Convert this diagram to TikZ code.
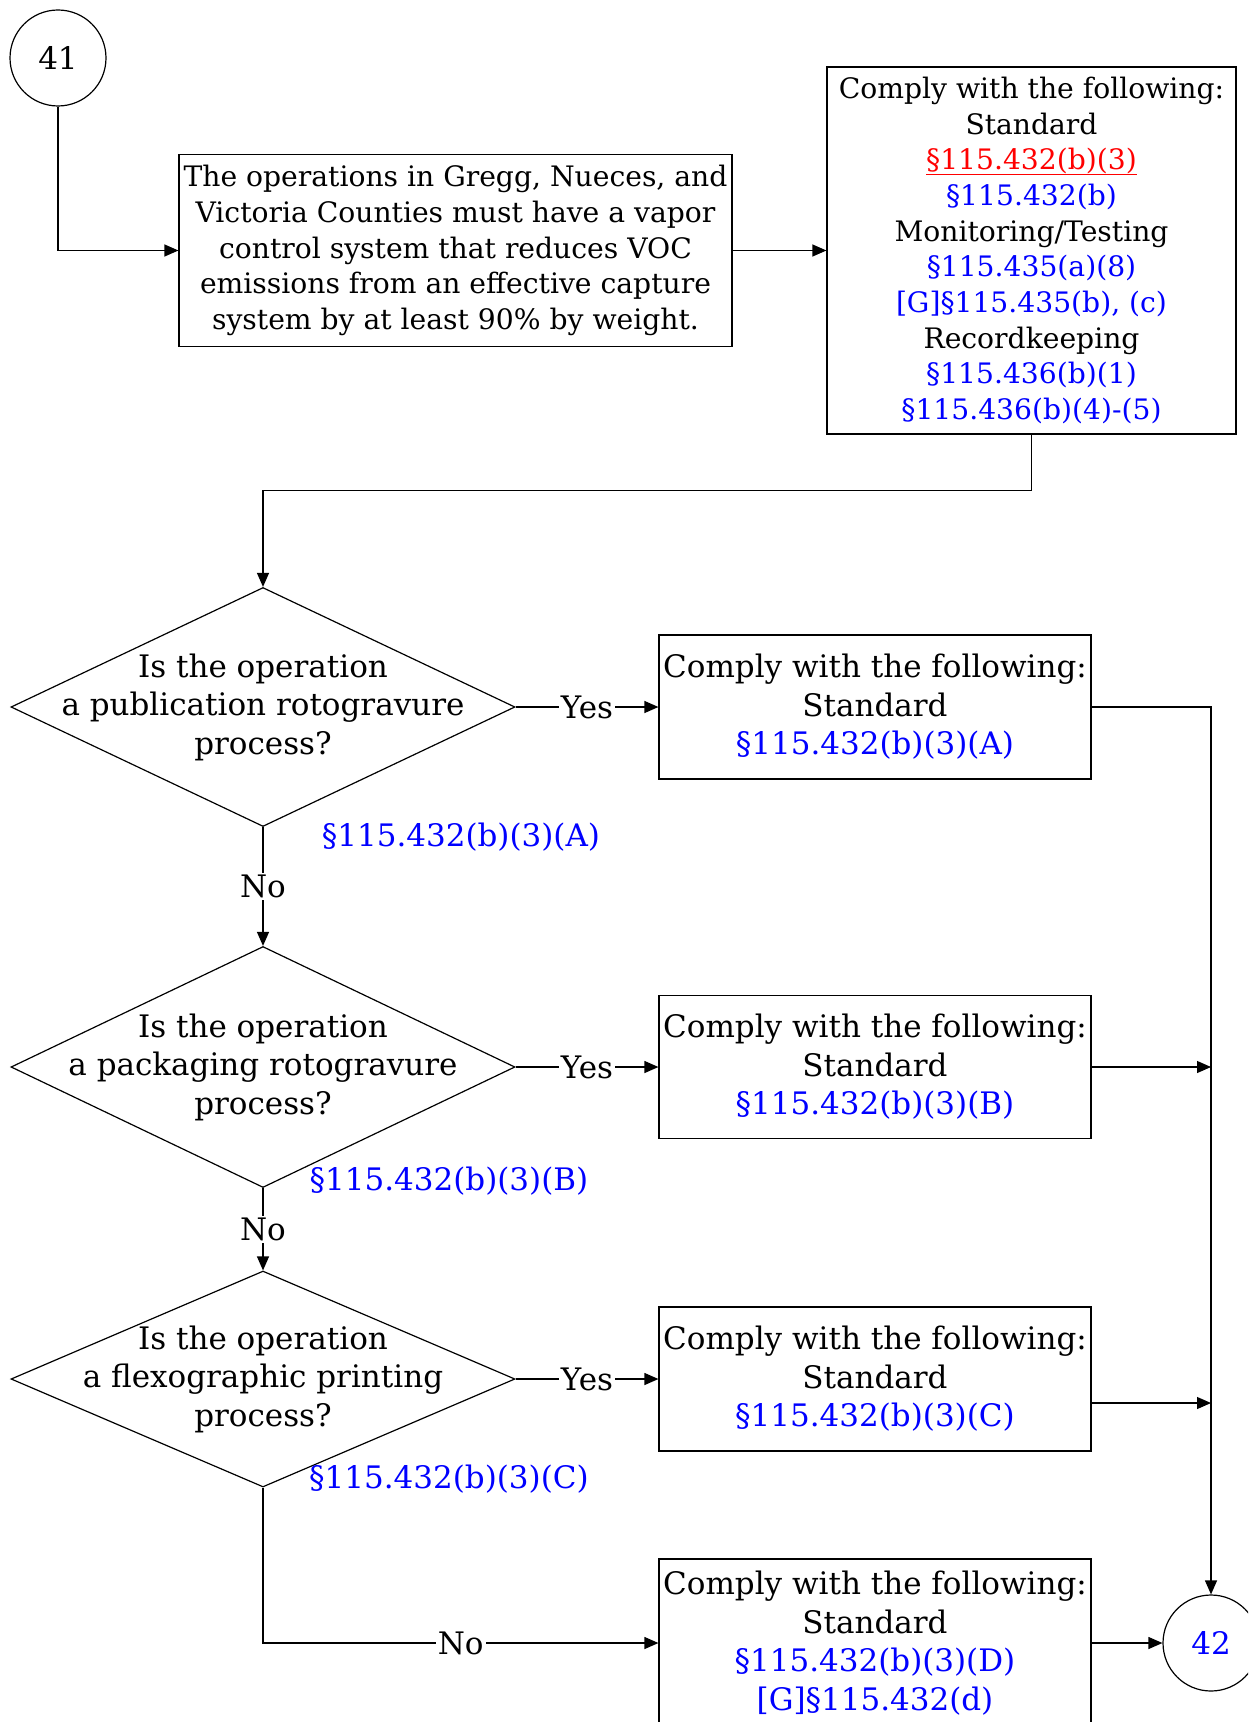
\documentclass[tikz,border=0pt]{standalone}
\usepackage{fontspec}
\setmainfont{DejaVu Serif}
\usetikzlibrary{shapes.geometric,arrows.meta,positioning}
\definecolor{refblue}{RGB}{0,0,255}
\definecolor{refred}{RGB}{255,0,0}
\newcommand{\smalltxt}{\fontsize{14.1}{17.85}\selectfont}
\newcommand{\bigtxt}{\fontsize{15.5}{19.25}\selectfont}
\newcommand{\regref}[1]{\textcolor{refblue}{#1}}
\newcommand{\redline}[1]{\setbox0\hbox{#1}\rlap{\rule[-2.8pt]{\wd0}{0.6pt}}\box0}
\tikzset{
    connector/.style={circle, draw, line width=0.6pt, minimum size=48pt, inner sep=0pt, font=\bigtxt},
    textbox/.style={rectangle, draw, line width=0.6pt, align=center, inner sep=2pt},
    decision/.style={diamond, draw, line width=0.6pt, inner sep=0pt},
    qtext/.style={align=center, inner sep=0pt, font=\bigtxt},
    arr/.style={draw, line width=0.6pt, -{Triangle[length=7pt,width=6pt]}},
    lbl/.style={fill=white, inner sep=1pt, font=\bigtxt}
}

\begin{document}
\begin{tikzpicture}[x=0.5pt, y=-0.5pt]
    \useasboundingbox (0,0) rectangle (1248,1722);
    \clip (0,0) rectangle (1248,1722);

    % Nodes
    \node[connector] (c41) at (58,58) {41};
    \node[textbox, minimum width=276.5pt, minimum height=96pt, font=\smalltxt] (vapor) at (455.5,250.5)
        {The operations in Gregg, Nueces, and\\ Victoria Counties must have a vapor\\ control system that reduces VOC\\ emissions from an effective capture\\ system by at least 90\% by weight.};
    \node[textbox, minimum width=204.5pt, minimum height=183.5pt, font=\smalltxt] (comply) at (1031.5,250.5)
        {Comply with the following:\\ Standard\\ \textcolor{refred}{\redline{§115.432(b)(3)}}\\ \regref{§115.432(b)}\\
         Monitoring/Testing\\ \regref{§115.435(a)(8)}\\ \regref{[G]§115.435(b), (c)}\\
         Recordkeeping\\ \regref{§115.436(b)(1)}\\ \regref{§115.436(b)(4)-(5)}};

    \node[decision, minimum width=252pt, minimum height=119.5pt] (pub) at (263,707) {};
    \node[qtext] (pubq) at (pub.center) {Is the operation\\ a publication rotogravure\\ process?};
    \node[decision, minimum width=252pt, minimum height=120.5pt] (pack) at (263,1067) {};
    \node[qtext] (packq) at (pack.center) {Is the operation\\ a packaging rotogravure\\ process?};
    \node[decision, minimum width=252pt, minimum height=108pt] (flexo) at (263,1379) {};
    \node[qtext] (flexoq) at (flexo.center) {Is the operation\\ a flexographic printing\\ process?};

    \node[font=\bigtxt, text=refblue] (refA) at (461,837) {§115.432(b)(3)(A)};
    \node[font=\bigtxt, text=refblue] (refB) at (449,1181) {§115.432(b)(3)(B)};
    \node[font=\bigtxt, text=refblue] (refC) at (449,1479) {§115.432(b)(3)(C)};

    \node[textbox, minimum width=216pt, minimum height=72pt, font=\bigtxt] (stdA) at (875,707)
        {Comply with the following:\\ Standard\\ \regref{§115.432(b)(3)(A)}};
    \node[textbox, minimum width=216pt, minimum height=71.5pt, font=\bigtxt] (stdB) at (875,1067)
        {Comply with the following:\\ Standard\\ \regref{§115.432(b)(3)(B)}};
    \node[textbox, minimum width=216pt, minimum height=72pt, font=\bigtxt] (stdC) at (875,1379)
        {Comply with the following:\\ Standard\\ \regref{§115.432(b)(3)(C)}};
    \node[textbox, minimum width=216pt, minimum height=84pt, font=\bigtxt] (stdD) at (875,1643)
        {Comply with the following:\\ Standard\\ \regref{§115.432(b)(3)(D)}\\ \regref{[G]§115.432(d)}};

    \node[connector, text=refblue] (c42) at (1211,1643) {42};
    \coordinate (jB) at (1211,1067);
    \coordinate (jC) at (1211,1403);

    % edges
    \draw[arr] (c41.south) |- (vapor.west);
    \draw[arr] (vapor.east) -- (comply.west);
    \draw[arr] (comply.south) -- ++(0,56) -| (pub.north);
    \draw[arr] (pub.east) -- node[lbl] {Yes} (stdA.west);
    \draw[arr] (pack.east) -- node[lbl] {Yes} (stdB.west);
    \draw[arr] (flexo.east) -- node[lbl] {Yes} (stdC.west);
    \draw[arr] (pub.south) -- node[lbl] {No} (pack.north);
    \draw[arr] (pack.south) -- node[lbl] {No} (flexo.north);
    \draw[arr] (flexo.south) |- node[lbl, pos=0.75] {No} (stdD.west);
    \draw[arr] (stdA.east) -| (c42.north);
    \draw[arr] (stdB.east |- jB) -- (jB);
    \draw[arr] (stdC.east |- jC) -- (jC);
    \draw[arr] (stdD.east) -- (c42.west);
\end{tikzpicture}
\end{document}
